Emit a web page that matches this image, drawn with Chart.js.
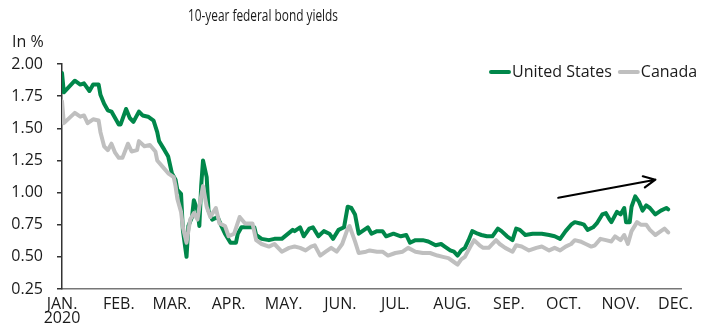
<!DOCTYPE html>
<html>
<head>
<meta charset="utf-8">
<script src="https://cdn.jsdelivr.net/npm/chart.js@4.4.1/dist/chart.umd.min.js"></script>
<style>
  html, body { margin: 0; padding: 0; background: #fff; }
  #wrap { width: 711px; height: 326px; }
</style>
</head>
<body>
<div id="wrap"><canvas id="yields" width="711" height="326"></canvas></div>
<script>
// day of year 2020 (0 = Jan 1) and yields in %
const usDays = [0, 1, 7, 10, 12, 15, 17, 20, 21, 23, 25, 27, 29, 31, 32, 35, 37, 39, 42, 44,
  47, 50, 52, 53, 56, 58, 60, 62, 63, 65, 66, 68, 69, 71, 72, 74, 75, 76, 77, 79,
  80, 82, 85, 87, 89, 92, 95, 96, 98, 101, 105, 106, 109, 113, 116, 120, 126, 127, 130, 132,
  135, 137, 140, 143, 146, 148, 151, 154, 156, 158, 160, 162, 165, 167, 169, 172, 175, 177, 181, 185,
  188, 190, 193, 197, 200, 204, 207, 209, 212, 214, 216, 218, 220, 222, 224, 227, 229, 232, 235, 238,
  240, 243, 246, 248, 250, 253, 257, 260, 262, 266, 269, 272, 275, 278, 280, 283, 285, 287, 290, 292,
  295, 297, 299, 300, 303, 305, 307, 308, 310, 311, 313, 315, 317, 319, 321, 324, 327, 330, 331];
const usYields = [1.93, 1.78, 1.87, 1.84, 1.85, 1.79, 1.84, 1.84, 1.76, 1.69, 1.64, 1.63, 1.58, 1.53, 1.53, 1.65, 1.58, 1.55, 1.63, 1.60,
  1.59, 1.56, 1.47, 1.40, 1.33, 1.28, 1.15, 1.10, 1.02, 0.99, 0.71, 0.50, 0.74, 0.81, 0.94, 0.86, 0.74, 1.05, 1.25, 1.12,
  0.86, 0.79, 0.81, 0.74, 0.68, 0.61, 0.61, 0.68, 0.73, 0.73, 0.73, 0.67, 0.64, 0.63, 0.64, 0.64, 0.71, 0.70, 0.73, 0.66,
  0.72, 0.73, 0.66, 0.70, 0.68, 0.64, 0.71, 0.73, 0.89, 0.88, 0.83, 0.68, 0.71, 0.73, 0.68, 0.70, 0.70, 0.66, 0.68, 0.66,
  0.67, 0.61, 0.63, 0.63, 0.62, 0.59, 0.60, 0.58, 0.55, 0.54, 0.51, 0.55, 0.57, 0.63, 0.70, 0.68, 0.67, 0.66, 0.66, 0.72,
  0.70, 0.66, 0.63, 0.72, 0.71, 0.67, 0.68, 0.68, 0.68, 0.67, 0.66, 0.64, 0.70, 0.75, 0.77, 0.76, 0.75, 0.71, 0.73, 0.76,
  0.83, 0.84, 0.79, 0.77, 0.85, 0.83, 0.88, 0.77, 0.77, 0.89, 0.97, 0.93, 0.86, 0.90, 0.88, 0.83, 0.86, 0.88, 0.87];

const caDays = [0, 1, 7, 10, 12, 14, 17, 20, 21, 23, 25, 27, 29, 31, 33, 36, 38, 41, 42, 45,
  48, 51, 52, 55, 58, 61, 62, 63, 65, 66, 68, 70, 72, 74, 75, 77, 79, 81, 84, 86,
  89, 91, 94, 97, 100, 104, 106, 109, 113, 116, 120, 124, 127, 130, 133, 136, 138, 141, 144, 147,
  150, 153, 156, 157, 160, 162, 166, 168, 172, 175, 178, 182, 186, 189, 193, 197, 201, 205, 208, 211,
  214, 216, 218, 220, 223, 225, 228, 230, 233, 237, 239, 242, 246, 248, 251, 255, 259, 262, 266, 269,
  272, 275, 278, 280, 283, 286, 289, 291, 294, 297, 300, 302, 305, 307, 309, 311, 314, 316, 319, 321,
  324, 327, 329, 331];
const caYields = [1.71, 1.54, 1.62, 1.59, 1.60, 1.54, 1.57, 1.56, 1.47, 1.36, 1.33, 1.38, 1.31, 1.27, 1.27, 1.38, 1.32, 1.33, 1.40, 1.36,
  1.37, 1.32, 1.25, 1.20, 1.15, 1.12, 1.05, 0.95, 0.85, 0.73, 0.61, 0.79, 0.84, 0.79, 0.89, 1.05, 0.89, 0.81, 0.88, 0.76,
  0.74, 0.66, 0.68, 0.81, 0.76, 0.76, 0.63, 0.60, 0.58, 0.60, 0.54, 0.57, 0.58, 0.57, 0.55, 0.58, 0.59, 0.51, 0.54, 0.57,
  0.54, 0.60, 0.72, 0.74, 0.62, 0.53, 0.54, 0.55, 0.54, 0.54, 0.51, 0.53, 0.54, 0.57, 0.54, 0.53, 0.53, 0.51, 0.50, 0.49,
  0.46, 0.44, 0.48, 0.50, 0.58, 0.63, 0.59, 0.57, 0.57, 0.63, 0.60, 0.57, 0.54, 0.59, 0.58, 0.55, 0.57, 0.58, 0.55, 0.57,
  0.55, 0.58, 0.60, 0.63, 0.62, 0.60, 0.58, 0.59, 0.64, 0.63, 0.62, 0.66, 0.63, 0.67, 0.60, 0.70, 0.77, 0.75, 0.75, 0.71,
  0.67, 0.70, 0.72, 0.69];

const monthStarts = [0, 31, 60, 91, 121, 152, 182, 213, 244, 274, 305, 335];
const monthLabels = [['JAN.', '2020'], 'FEB.', 'MAR.', 'APR.', 'MAY.', 'JUN.', 'JUL.', 'AUG.', 'SEP.', 'OCT.', 'NOV.', 'DEC.'];
const yTicks = [0.25, 0.50, 0.75, 1.00, 1.25, 1.50, 1.75, 2.00];

const seriesNames = ['United States', 'Canada'];
const seriesColors = ['#00874A', '#BFBFBF'];

// trend arrow, in data units (day, %)
const arrowFrom = [271, 0.96];
const arrowTo = [324, 1.10];

const FONT = '"Open Sans", sans-serif';
const TEXT = '#1a1a1a';

function toPoints(days, values) {
  return days.map((d, i) => ({ x: d, y: values[i] }));
}

const overlay = {
  id: 'overlay',
  afterDraw(chart) {
    const ctx = chart.ctx;
    ctx.save();
    ctx.fillStyle = TEXT;
    ctx.textBaseline = 'middle';

    // title, squeezed to look like the condensed face of the original
    ctx.font = '16px ' + FONT;
    const title = '10-year federal bond yields';
    const tw = ctx.measureText(title).width;
    ctx.save();
    ctx.translate(188, 16);
    ctx.scale(150 / tw, 1);
    ctx.textAlign = 'left';
    ctx.fillText(title, 0, 0);
    ctx.restore();

    // unit label
    ctx.font = '16px ' + FONT;
    ctx.textAlign = 'left';
    ctx.fillText('In %', 12, 42);

    // legend
    let x = 489;
    const ly = 72;
    chart.data.datasets.forEach(ds => {
      ctx.strokeStyle = ds.borderColor;
      ctx.lineWidth = 4;
      ctx.lineCap = 'round';
      ctx.beginPath();
      ctx.moveTo(x + 2, ly);
      ctx.lineTo(x + 20, ly);
      ctx.stroke();
      x += 23;
      ctx.fillStyle = TEXT;
      ctx.fillText(ds.label, x, ly);
      x += ctx.measureText(ds.label).width + 6;
    });

    // arrow
    const xs = chart.scales.x, ys = chart.scales.y;
    const x0 = xs.getPixelForValue(arrowFrom[0]), y0 = ys.getPixelForValue(arrowFrom[1]);
    const x1 = xs.getPixelForValue(arrowTo[0]), y1 = ys.getPixelForValue(arrowTo[1]);
    const ang = Math.atan2(y1 - y0, x1 - x0);
    ctx.strokeStyle = '#000';
    ctx.lineWidth = 2.2;
    ctx.lineCap = 'round';
    ctx.lineJoin = 'round';
    ctx.beginPath();
    ctx.moveTo(x0, y0);
    ctx.lineTo(x1, y1);
    ctx.moveTo(x1 - 13 * Math.cos(ang - 0.45), y1 - 13 * Math.sin(ang - 0.45));
    ctx.lineTo(x1, y1);
    ctx.lineTo(x1 - 13 * Math.cos(ang + 0.45), y1 - 13 * Math.sin(ang + 0.45));
    ctx.stroke();
    ctx.restore();
  }
};

new Chart(document.getElementById('yields'), {
  type: 'line',
  data: {
    datasets: [
      { label: seriesNames[0], data: toPoints(usDays, usYields), borderColor: seriesColors[0], order: 1 },
      { label: seriesNames[1], data: toPoints(caDays, caYields), borderColor: seriesColors[1], order: 0 }
    ]
  },
  options: {
    responsive: false,
    animation: false,
    layout: { padding: { top: 64, right: 30, left: 0, bottom: 0 } },
    elements: {
      point: { radius: 0 },
      line: { borderWidth: 4, tension: 0, borderJoinStyle: 'round', borderCapStyle: 'round' }
    },
    plugins: { legend: { display: false }, title: { display: false }, tooltip: { enabled: false } },
    scales: {
      x: {
        type: 'linear',
        min: 0,
        max: 338,
        afterFit(scale) { scale.height = 37; },
        afterBuildTicks(scale) { scale.ticks = monthStarts.map(v => ({ value: v })); },
        grid: { display: false },
        border: { display: true, color: '#777', width: 1.5 },
        ticks: {
          autoSkip: false,
          maxRotation: 0,
          padding: 0,
          color: TEXT,
          font: { family: FONT, size: 16, lineHeight: 0.88 },
          callback(value) {
            const i = monthStarts.indexOf(value);
            return i >= 0 ? monthLabels[i] : '';
          }
        }
      },
      y: {
        min: 0.25,
        max: 2.0,
        afterFit(scale) { scale.width = 62; },
        afterBuildTicks(scale) { scale.ticks = yTicks.map(v => ({ value: v })); },
        grid: { display: true, drawOnChartArea: false, drawTicks: true, tickLength: 5, color: '#333', lineWidth: 1.5 },
        border: { display: true, color: '#333', width: 1.5 },
        ticks: {
          padding: 14,
          color: TEXT,
          font: { family: FONT, size: 16 },
          callback(value) { return value.toFixed(2); }
        }
      }
    }
  },
  plugins: [overlay]
});
</script>
</body>
</html>
